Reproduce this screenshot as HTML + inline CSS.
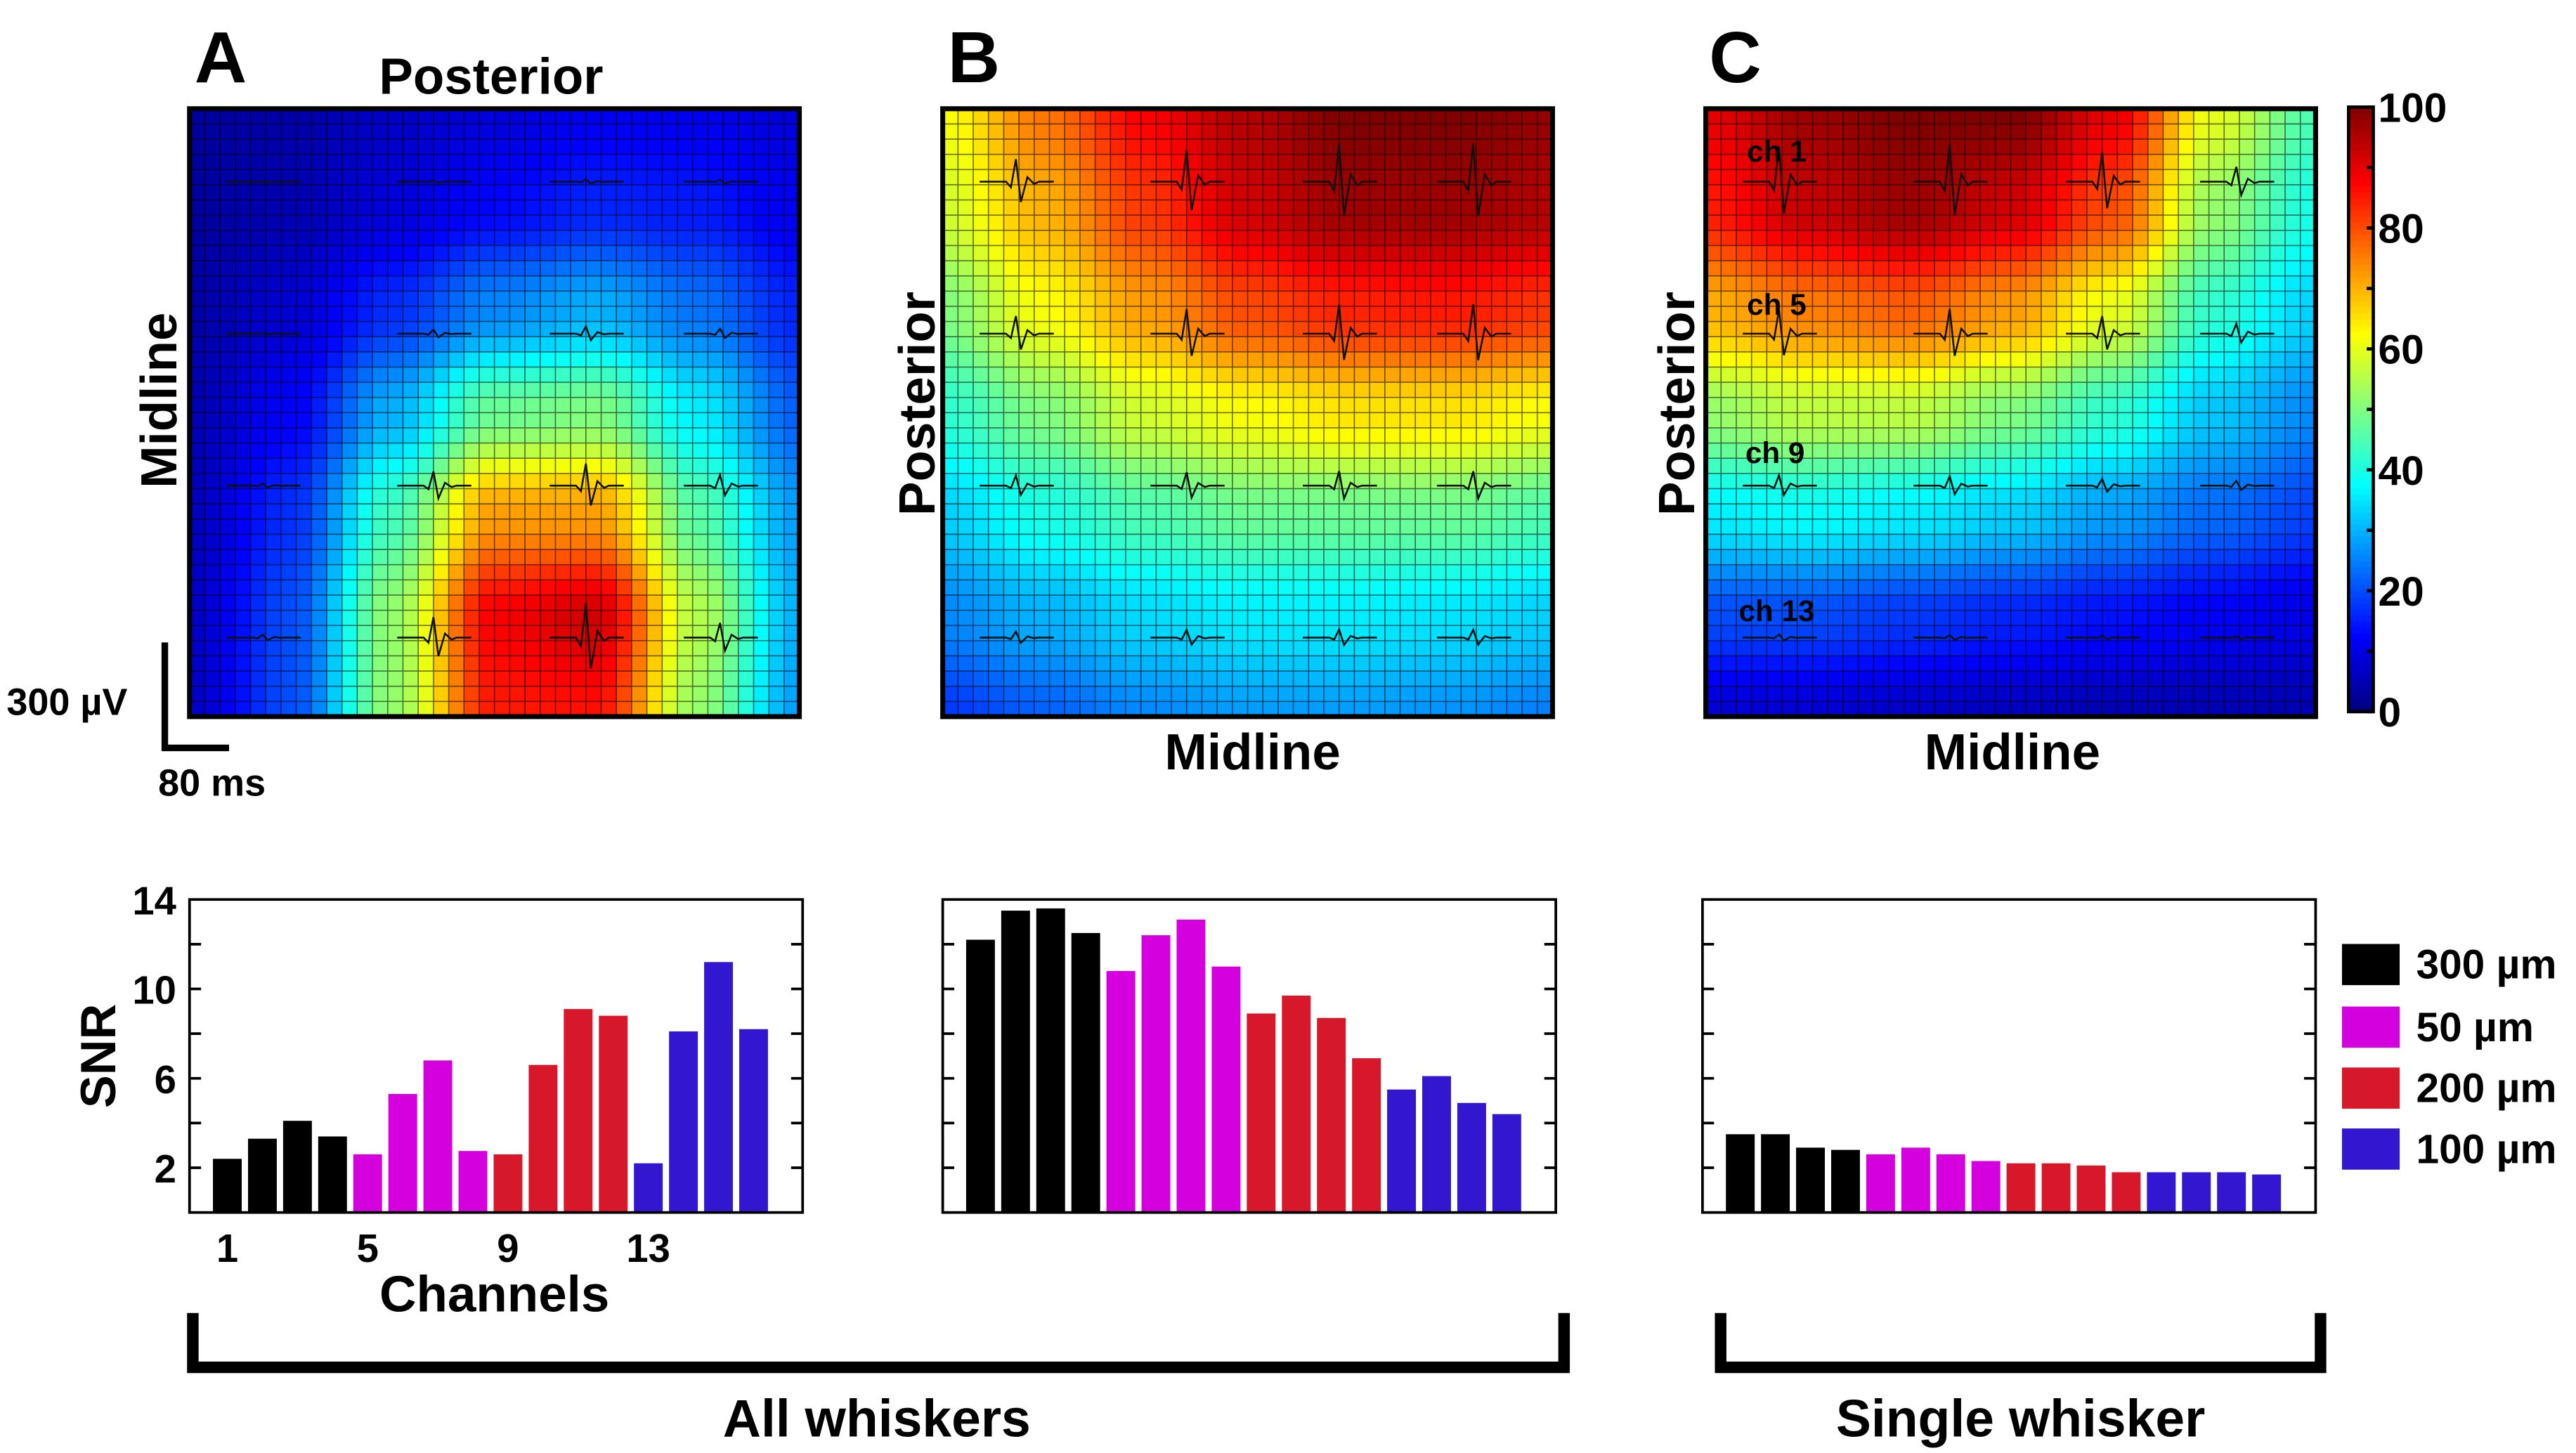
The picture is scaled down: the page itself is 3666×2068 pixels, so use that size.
<!DOCTYPE html>
<html><head><meta charset="utf-8">
<style>
html,body{margin:0;padding:0;background:#fff;}
svg{display:block;font-family:"Liberation Sans",Arial,sans-serif;font-weight:bold;}
</style></head>
<body>
<svg id="fig" width="3666" height="2068" viewBox="0 0 1563 882" preserveAspectRatio="none" xmlns="http://www.w3.org/2000/svg">
<g id="heat"></g>
<g id="bars"></g>
<text x="118" y="50" font-size="44">A</text>
<text x="575" y="50" font-size="44">B</text>
<text x="1037" y="50" font-size="44">C</text>
<text x="298" y="57" font-size="31" text-anchor="middle">Posterior</text>
<text transform="translate(107,243) rotate(-90)" font-size="31" text-anchor="middle">Midline</text>
<text transform="translate(567,245) rotate(-90)" font-size="31" text-anchor="middle">Posterior</text>
<text x="760" y="467" font-size="31" text-anchor="middle">Midline</text>
<text transform="translate(1028,245) rotate(-90)" font-size="31" text-anchor="middle">Posterior</text>
<text x="1221" y="467" font-size="31" text-anchor="middle">Midline</text>
<g>
<path d="M100,390 V454 H139" fill="none" stroke="#000" stroke-width="4"/>
<text x="4" y="434" font-size="23">300 µV</text>
<text x="96" y="483" font-size="23">80 ms</text>
</g>
<g font-size="18">
<text x="1060" y="98">ch 1</text><text x="1060" y="191">ch 5</text>
<text x="1059" y="281">ch 9</text><text x="1055" y="377">ch 13</text>
</g>
<g font-size="25">
<rect x="1421" y="573" width="35" height="25" fill="#000"/><text x="1466" y="594">300 µm</text>
<rect x="1421" y="611" width="35" height="25" fill="#d400de"/><text x="1466" y="632">50 µm</text>
<rect x="1421" y="648" width="35" height="25" fill="#d7182a"/><text x="1466" y="669">200 µm</text>
<rect x="1421" y="685" width="35" height="25" fill="#3316d0"/><text x="1466" y="706">100 µm</text>
</g>
<text transform="translate(70,641) rotate(-90)" font-size="30" text-anchor="middle">SNR</text>
<text x="300" y="796" font-size="31" text-anchor="middle">Channels</text>
<path d="M117,797 V830 H949 V797" fill="none" stroke="#000" stroke-width="7"/>
<path d="M1044,797 V830 H1408 V797" fill="none" stroke="#000" stroke-width="7"/>
<text x="532" y="872" font-size="32" text-anchor="middle">All whiskers</text>
<text x="1226" y="872" font-size="32" text-anchor="middle">Single whisker</text>
</svg>
<script>
// ---- heatmap control grids (0-100), rows top->bottom, cols left->right ----
const heatA = [
 [3,4,7,9,11,11,9],
 [3,5,9,13,16,15,11],
 [4,8,17,26,30,24,16],
 [5,12,30,48,50,36,22],
 [6,17,44,72,72,46,28],
 [7,20,52,88,92,55,30],
 [7,20,52,85,86,52,28]];
const heatB = [
 [62,76,88,95,100,100,98],
 [58,70,82,92,97,97,95],
 [50,62,72,80,84,85,82],
 [42,50,58,62,65,65,62],
 [33,40,45,48,48,48,45],
 [26,30,34,36,36,35,33],
 [18,22,26,28,28,27,25]];
const heatC = [
 [90,97,100,100,90,60,45],
 [85,93,97,92,80,52,40],
 [70,75,78,72,60,42,33],
 [52,56,56,50,42,32,26],
 [36,38,36,33,28,23,19],
 [20,20,18,16,14,12,10],
 [8,8,7,6,5,5,5]];
const colorbarTicks = [0,20,40,60,80,100];
// ---- SNR bar data ----
const channels = [1,2,3,4,5,6,7,8,9,10,11,12,13,14,15,16];
const snrA = [2.4,3.3,4.1,3.4,2.6,5.3,6.8,2.75,2.6,6.6,9.1,8.8,2.2,8.1,11.2,8.2];
const snrB = [12.2,13.5,13.6,12.5,10.8,12.4,13.1,11.0,8.9,9.7,8.7,6.9,5.5,6.1,4.9,4.4];
const snrC = [3.5,3.5,2.9,2.8,2.6,2.9,2.6,2.3,2.2,2.2,2.1,1.8,1.8,1.8,1.8,1.7];
const groupColors = ["#000000","#d400de","#d7182a","#3316d0"];
const snrTickLabels = [2,6,10,14];
const xTickLabels = [1,5,9,13];

const NS="http://www.w3.org/2000/svg";
function mk(tag,attrs,parent){const e=document.createElementNS(NS,tag);for(const k in attrs)e.setAttribute(k,attrs[k]);parent.appendChild(e);return e;}
function jet(v){v=Math.max(0,Math.min(1,v));
 const r=Math.max(0,Math.min(1,1.5-Math.abs(4*v-3)));
 const g=Math.max(0,Math.min(1,1.5-Math.abs(4*v-2)));
 const b=Math.max(0,Math.min(1,1.5-Math.abs(4*v-1)));
 return `rgb(${Math.round(r*255)},${Math.round(g*255)},${Math.round(b*255)})`;}
function sample(grid,fx,fy){const n=grid.length-1;
 const gx=fx*n,gy=fy*n;const i=Math.min(n-1,Math.floor(gx)),j=Math.min(n-1,Math.floor(gy));
 let tx=gx-i,ty=gy-j;tx=tx*tx*(3-2*tx);ty=ty*ty*(3-2*ty);
 const a=grid[j][i],b=grid[j][i+1],c=grid[j+1][i],d=grid[j+1][i+1];
 return (a*(1-tx)+b*tx)*(1-ty)+(c*(1-tx)+d*tx)*ty;}

const heatG=document.getElementById('heat');
const panels=[{g:heatA,x:115,name:'a'},{g:heatB,x:572,name:'b'},{g:heatC,x:1035,name:'c'}];
const HY=66,HW=370,HH=369,N=40;
const chX=[0.12,0.4,0.65,0.87],chY=[0.12,0.37,0.62,0.87];
panels.forEach(p=>{
 const g=mk('g',{},heatG);
 
 
 const cw=HW/N,chh=HH/N;
 for(let r=0;r<N;r++)for(let c=0;c<N;c++){
  const v=sample(p.g,(c+0.5)/N,(r+0.5)/N);
  mk('rect',{x:p.x+c*cw,y:HY+r*chh,width:cw+0.3,height:chh+0.3,fill:jet(v/100)},g);
 }
 let d='';
 for(let k=1;k<N;k++){d+=`M${p.x+k*cw},${HY}V${HY+HH}M${p.x},${HY+k*chh}H${p.x+HW}`;}
 mk('path',{d:d,stroke:'#000','stroke-opacity':0.55,'stroke-width':0.7,fill:'none'},g);
 chY.forEach(fy=>chX.forEach(fx=>{
  const v=sample(p.g,fx,fy);const amp=Math.pow(v/100,1.5)*24;
  const cx=p.x+fx*HW,cy=HY+fy*HH;
  const w=mk('path',{d:`M${cx-22},${cy}H${cx-6}L${cx-3},${cy+amp*0.25}L${cx},${cy-amp}L${cx+3},${cy+amp*0.9}L${cx+7},${cy-amp*0.2}L${cx+11},${cy+amp*0.1}L${cx+14},${cy}H${cx+23}`,fill:'none',stroke:'#111','stroke-width':1.1},g);
  
  
 }));
 mk('rect',{x:p.x,y:HY,width:HW,height:HH,fill:'none',stroke:'#000','stroke-width':3},g);
});
const cb=mk('g',{},heatG);


const CBX=1425,CBW=15,CBT=65,CBB=432;
for(let k=0;k<100;k++){const y=CBB-(k+1)*(CBB-CBT)/100;mk('rect',{x:CBX,y:y,width:CBW,height:(CBB-CBT)/100+0.4,fill:jet((k+0.5)/100)},cb);}
mk('rect',{x:CBX,y:CBT,width:CBW,height:CBB-CBT,fill:'none',stroke:'#000','stroke-width':2},cb);
for(let t=0;t<=100;t+=10){const y=CBB-t/100*(CBB-CBT);mk('line',{x1:CBX+CBW-4,x2:CBX+CBW,y1:y,y2:y,stroke:'#000','stroke-width':2},cb);}
colorbarTicks.forEach(t=>{const y=CBB-t/100*(CBB-CBT);const tx=mk('text',{x:1443,y:y+9,'font-size':25},cb);tx.textContent=t;});

const barsG=document.getElementById('bars');
const BY=546,BH=190,BW=372,YMAX=14;
[{d:snrA,x:115,name:'a'},{d:snrB,x:572,name:'b'},{d:snrC,x:1033,name:'c'}].forEach((p,pi)=>{
 const g=mk('g',{},barsG);
 
 
 const ys=v=>BY+BH-v/YMAX*BH;
 const pad=14.2,pitch=(BW-2*pad-3)/channels.length,bw=pitch*0.82;
 p.d.forEach((v,i)=>{
  const b=mk('rect',{x:p.x+pad+i*pitch,y:ys(v),width:bw,height:BY+BH-ys(v),fill:groupColors[Math.floor(i/4)]},g);
  
  
 });
 mk('rect',{x:p.x,y:BY,width:BW,height:BH,fill:'none',stroke:'#000','stroke-width':1.6},g);
 for(let t=2;t<YMAX;t+=2){const y=ys(t);
  mk('line',{x1:p.x,x2:p.x+7,y1:y,y2:y,stroke:'#000','stroke-width':1.6},g);
  mk('line',{x1:p.x+BW-7,x2:p.x+BW,y1:y,y2:y,stroke:'#000','stroke-width':1.6},g);}
 if(pi===0){
  snrTickLabels.forEach(t=>{const tx=mk('text',{x:p.x-8,y:ys(t)+9,'font-size':24,'text-anchor':'end'},g);tx.textContent=t;});
  xTickLabels.forEach(c=>{const tx=mk('text',{x:p.x+pad+(c-1)*pitch+bw/2,y:766,'font-size':24,'text-anchor':'middle'},g);tx.textContent=c;});
 }
});
</script>
</body></html>
